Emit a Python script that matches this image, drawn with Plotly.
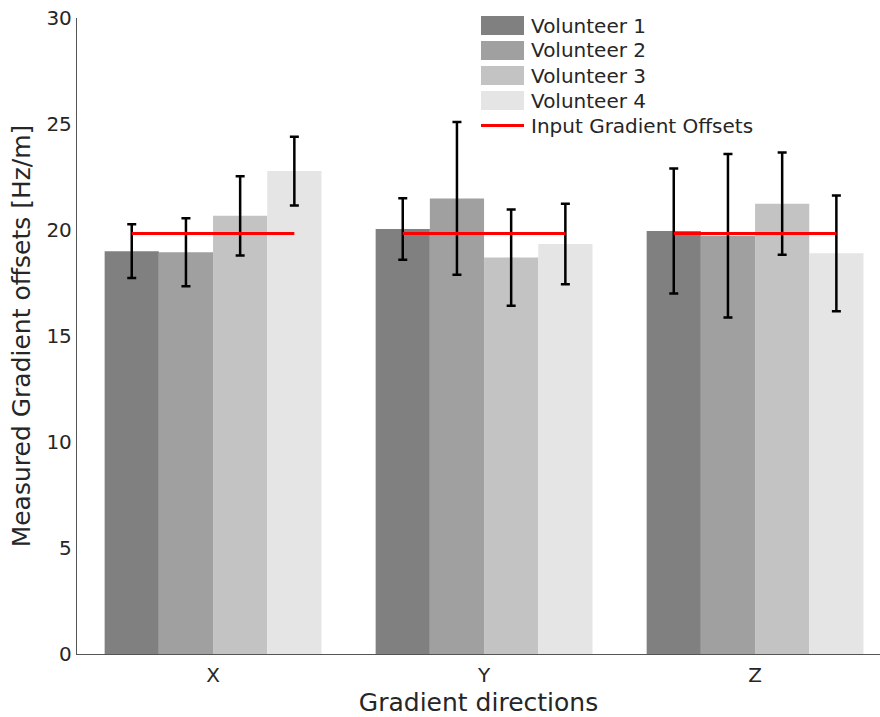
import plotly.graph_objects as go

categories = ["X", "Y", "Z"]
series_names = ["Volunteer 1", "Volunteer 2", "Volunteer 3", "Volunteer 4"]
values = [
    [19.0, 20.05, 19.95],
    [18.95, 21.49, 19.73],
    [20.67, 18.70, 21.24],
    [22.78, 19.34, 18.90],
]
errors = [
    [1.27, 1.45, 2.95],
    [1.60, 3.60, 3.86],
    [1.87, 2.27, 2.41],
    [1.62, 1.90, 2.73],
]
colors = ["#808080", "#a0a0a0", "#c3c3c3", "#e5e5e5"]
line_name = "Input Gradient Offsets"
input_offset = [19.84, 19.84, 19.84]
y_ticks = [0, 5, 10, 15, 20, 25, 30]

W, H = 880, 717
ML, MR, MT, MB = 77, 0, 18, 63
PW, PH = W - ML - MR, H - MT - MB

def px_x(p):
    return (p - ML) / PW

def px_y(p):
    return 1 - (p - MT) / PH

xpos = list(range(len(categories)))
fig = go.Figure()
for name, vals, errs, col in zip(series_names, values, errors, colors):
    fig.add_trace(go.Bar(
        x=xpos, y=vals, name=name, marker=dict(color=col, line=dict(width=0)),
        showlegend=False,
        error_y=dict(type="data", array=errs, visible=True, color="black",
                     thickness=2.5, width=4.5),
    ))

# red input line spanning from first to last bar center in each group
lx, ly = [], []
half = 0.3
for i, v in zip(xpos, input_offset):
    lx += [i - half, i + half, None]
    ly += [v, v, None]
fig.add_trace(go.Scatter(x=lx, y=ly, mode="lines", name=line_name, showlegend=False,
                         line=dict(color="#ff0000", width=3)))

# legend (drawn like the reference: wide swatches, 25px rows)
font = "DejaVu Sans, sans-serif"
sw_x0, sw_x1, txt_x, row0, row_h = 481, 524, 529, 25.5, 25
entries = list(zip(series_names, colors)) + [(line_name, None)]
for k, (name, col) in enumerate(entries):
    cy = row0 + k * row_h
    if col is not None:
        fig.add_shape(type="rect", xref="paper", yref="paper",
                      x0=px_x(sw_x0), x1=px_x(sw_x1), y0=px_y(cy + 9.5), y1=px_y(cy - 9.5),
                      fillcolor=col, line=dict(width=0))
    else:
        fig.add_shape(type="line", xref="paper", yref="paper",
                      x0=px_x(sw_x0), x1=px_x(sw_x1), y0=px_y(cy), y1=px_y(cy),
                      line=dict(color="#ff0000", width=3))
    fig.add_annotation(xref="paper", yref="paper", x=px_x(txt_x), y=px_y(cy),
                       xanchor="left", yanchor="middle", text=name, showarrow=False,
                       font=dict(size=20, color="#262626", family=font))

fig.update_layout(
    width=W, height=H,
    margin=dict(l=ML, r=MR, t=MT, b=MB),
    plot_bgcolor="white", paper_bgcolor="white",
    barmode="group", bargap=0.2, bargroupgap=0,
    font=dict(family=font, size=20, color="#262626"),
    showlegend=False,
    xaxis=dict(range=[-0.502, 2.461], tickvals=xpos, ticktext=categories,
               showline=True, linecolor="#555555", linewidth=1.3, ticks="",
               showgrid=False, zeroline=False, automargin=False,
               ticklabelstandoff=3,
               title=dict(text="Gradient directions", font=dict(size=25), standoff=10),
               tickfont=dict(size=20)),
    yaxis=dict(range=[0, 30], tickvals=y_ticks, showline=True, linecolor="#555555",
               linewidth=1.3, ticks="", showgrid=False, zeroline=False, automargin=False,
               title=dict(text="Measured Gradient offsets [Hz/m]", font=dict(size=25), standoff=8),
               tickfont=dict(size=20)),
)
fig.write_html("out.html", config={"displayModeBar": False},
               post_script="document.body.style.margin='0';")
